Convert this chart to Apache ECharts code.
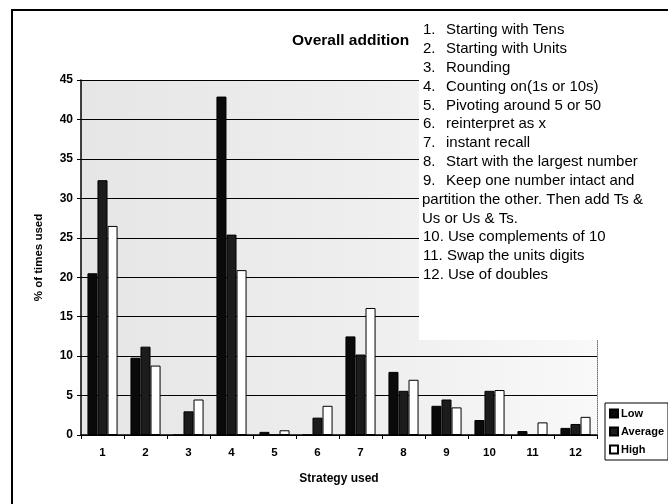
<!DOCTYPE html>
<html>
<head>
<meta charset="utf-8">
<script src="https://cdn.jsdelivr.net/npm/echarts@6/dist/echarts.min.js"></script>
<style>html,body{margin:0;padding:0;background:#fff;}#c{width:668px;height:504px;}</style>
</head>
<body>
<div id="c"></div>
<script>
const categories = ['1','2','3','4','5','6','7','8','9','10','11','12'];
const lowValues     = [20.5, 9.8, 0,   42.9, 0.4, 0,   12.5, 8.0, 3.7, 1.9, 0.5, 0.9];
const averageValues = [32.3, 11.2, 3.0, 25.4, 0,   2.2, 10.2, 5.6, 4.5, 5.6, 0,   1.4];
const highValues    = [26.5, 8.8, 4.5, 20.9, 0.6, 3.7, 16.1, 7.0, 3.5, 5.7, 1.6, 2.3];
const seriesNames = ['Low', 'Average', 'High'];
const yTicks = { min: 0, max: 45, interval: 5 };
const chartTitle = 'Overall addition';
const xTitle = 'Strategy used';
const yTitle = '% of times used';
const strategyNotes = [
  'Starting with Tens',
  'Starting with Units',
  'Rounding',
  'Counting on(1s or 10s)',
  'Pivoting around 5 or 50',
  'reinterpret as x',
  'instant recall',
  'Start with the largest number',
  'Keep one number intact and\npartition the other. Then add Ts &\nUs or Us & Ts.',
  'Use complements of 10',
  'Swap the units digits',
  'Use of doubles'
];

const FONT = "'Liberation Sans', Arial, sans-serif";
const NOTE_FONT = '15px ' + FONT;
const chart = echarts.init(document.getElementById('c'), null, { renderer: 'canvas' });

const graphics = [
  { type: 'rect', z: 1, shape: { x: 419, y: 20, width: 185, height: 320 }, style: { fill: '#ffffff' }, silent: true },
  { type: 'rect', z: 100, shape: { x: 12, y: 10, width: 680, height: 520 }, style: { fill: 'none', stroke: '#000', lineWidth: 2 }, silent: true }
];
let row = 0;
const rowY0 = 30, rowH = 18.85;
strategyNotes.forEach((note, i) => {
  const parts = note.split('\n');
  const y = rowY0 + row * rowH;
  if (i < 9) {
    graphics.push({ type: 'text', z: 5, style: { text: (i + 1) + '.', x: 423, y: y, verticalAlign: 'middle', font: NOTE_FONT, fill: '#000' } });
    graphics.push({ type: 'text', z: 5, style: { text: parts[0], x: 446, y: y, verticalAlign: 'middle', font: NOTE_FONT, fill: '#000' } });
  } else {
    graphics.push({ type: 'text', z: 5, style: { text: (i + 1) + '. ' + parts[0], x: 423, y: y, verticalAlign: 'middle', font: NOTE_FONT, fill: '#000' } });
  }
  row++;
  for (let j = 1; j < parts.length; j++) {
    graphics.push({ type: 'text', z: 5, style: { text: parts[j], x: 422, y: rowY0 + row * rowH, verticalAlign: 'middle', font: NOTE_FONT, fill: '#000' } });
    row++;
  }
});

const barStyle = (color) => ({ color: color, borderColor: '#000', borderWidth: 1 });

chart.setOption({
  animation: false,
  backgroundColor: '#fff',
  textStyle: { fontFamily: FONT },
  title: {
    text: chartTitle, left: 292, top: 33, padding: 0,
    textStyle: { fontSize: 15.5, fontWeight: 'bold', color: '#000', fontFamily: FONT }
  },
  legend: {
    orient: 'vertical', left: 605, top: 403,
    data: seriesNames,
    icon: 'rect', itemWidth: 8, itemHeight: 8, itemGap: 7,
    padding: [5, 4, 5, 4],
    backgroundColor: '#fff', borderColor: '#000', borderWidth: 1, borderRadius: 0,
    textStyle: { fontSize: 11, fontWeight: 'bold', color: '#000', fontFamily: FONT, padding: [0, 0, 0, -2] }
  },
  grid: {
    left: 81, top: 80, width: 516, height: 355,
    show: true, borderWidth: 0,
    backgroundColor: {
      type: 'linear', x: 0, y: 0, x2: 1, y2: 0,
      colorStops: [{ offset: 0, color: '#e6e6e6' }, { offset: 0.55, color: '#eeeeee' }, { offset: 1, color: '#f9f9f9' }]
    }
  },
  xAxis: {
    type: 'category', data: categories,
    name: xTitle, nameLocation: 'middle', nameGap: 38,
    nameTextStyle: { fontSize: 12, fontWeight: 'bold', color: '#000', fontFamily: FONT },
    axisLine: { lineStyle: { color: '#000', width: 1.5 } },
    axisTick: { show: true, interval: 0, alignWithLabel: false, length: 4, lineStyle: { color: '#000' } },
    axisLabel: { margin: 12, fontSize: 11.5, fontWeight: 'bold', color: '#000', fontFamily: FONT }
  },
  yAxis: [{
    type: 'value', min: yTicks.min, max: yTicks.max, interval: yTicks.interval,
    name: yTitle, nameLocation: 'middle', nameGap: 36, nameRotate: 90,
    nameTextStyle: { fontSize: 11.5, fontWeight: 'bold', color: '#000', fontFamily: FONT },
    axisLine: { show: true, lineStyle: { color: '#000', width: 1.5 } },
    axisTick: { show: true, length: 4, lineStyle: { color: '#000' } },
    axisLabel: { margin: 8, fontSize: 12, fontWeight: 'bold', color: '#000', fontFamily: FONT },
    splitLine: { show: true, lineStyle: { color: '#000', width: 1 } }
  }, {
    type: 'value', position: 'right', min: yTicks.min, max: yTicks.max, interval: yTicks.interval,
    axisLine: { show: true, lineStyle: { color: '#777', width: 1, type: 'dotted' } },
    axisTick: { show: false }, axisLabel: { show: false }, splitLine: { show: false }
  }],
  series: [
    { name: seriesNames[0], type: 'bar', data: lowValues, barGap: '0%', barCategoryGap: '30%', itemStyle: barStyle('#0a0a0a'), z: 3 },
    { name: seriesNames[1], type: 'bar', data: averageValues, barGap: '0%', barCategoryGap: '30%', itemStyle: barStyle('#1c1c1c'), z: 3 },
    { name: seriesNames[2], type: 'bar', data: highValues, barGap: '0%', barCategoryGap: '30%', itemStyle: barStyle('#ffffff'), z: 3 }
  ],
  graphic: graphics
});
</script>
</body>
</html>
